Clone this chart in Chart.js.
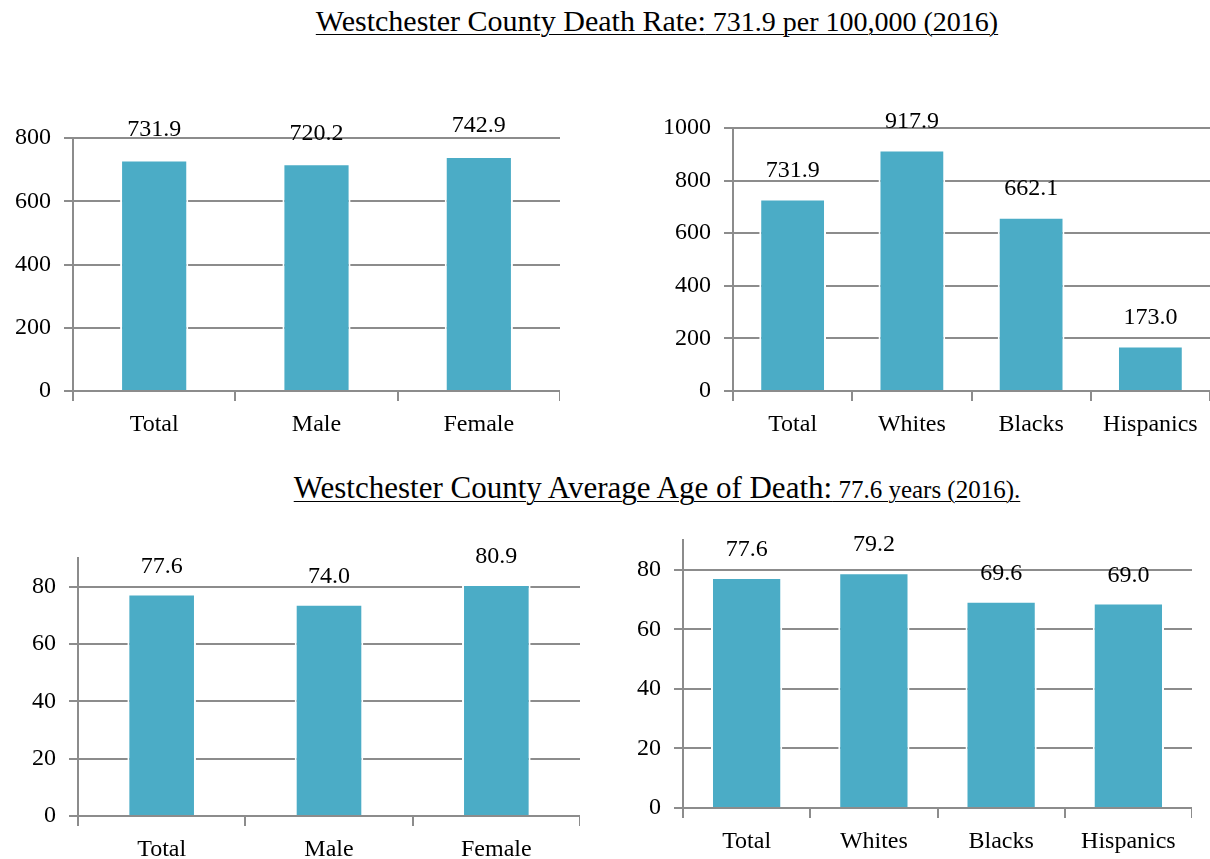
<!DOCTYPE html>
<html>
<head>
<meta charset="utf-8">
<script src="https://cdn.jsdelivr.net/npm/chart.js@4/dist/chart.umd.min.js"></script>
<style>
  html, body { margin: 0; padding: 0; background: #fff; overflow: hidden; }
  body { width: 1210px; height: 859px; position: relative; font-family: "Liberation Serif", serif; color: #000; }
  .title { position: absolute; left: 0; width: 1314px; text-align: center; white-space: nowrap; line-height: 1; }
  .title span.u { text-decoration: underline; text-decoration-thickness: 1px; text-underline-offset: 3px; }
  .box { position: absolute; }
</style>
</head>
<body>
<div class="title" style="top:6px;"><span class="u"><span style="font-size:30px">Westchester County Death Rate:</span><span style="font-size:28px"> 731.9 per 100,000 (2016)</span></span></div>
<div class="title" style="top:472px;"><span class="u"><span style="font-size:31px">Westchester County Average Age of Death:</span><span style="font-size:25px"> 77.6 years (2016).</span></span></div>

<div class="box" style="left:0px; top:100px; width:560px; height:341px;"><canvas id="rate-sex"></canvas></div>
<div class="box" style="left:640px; top:90px; width:570px; height:351px;"><canvas id="rate-race"></canvas></div>
<div class="box" style="left:0px; top:520px; width:580px; height:339px;"><canvas id="age-sex"></canvas></div>
<div class="box" style="left:620px; top:500px; width:572px; height:353px;"><canvas id="age-race"></canvas></div>

<script>
'use strict'

var sexLabels = ['Total', 'Male', 'Female']
var raceLabels = ['Total', 'Whites', 'Blacks', 'Hispanics']

var deathRateBySex = [731.9, 720.2, 742.9]
var deathRateByRace = [731.9, 917.9, 662.1, 173.0]
var deathAgeBySex = [77.6, 74.0, 80.9]
var deathAgeByRace = [77.6, 79.2, 69.6, 69.0]

var FONT = 'Liberation Serif'
var GREY = '#8c8c8c'
var BAR = '#4bacc6'

// draws the value above each bar
var valueLabels = {
  id: 'valueLabels',
  afterDatasetsDraw: function (chart, args, opts) {
    var ctx = chart.ctx
    ctx.save()
    ctx.font = '24px "' + FONT + '"'
    ctx.fillStyle = '#000'
    ctx.textAlign = 'center'
    ctx.textBaseline = 'middle'
    var values = chart.data.datasets[0].data
    chart.getDatasetMeta(0).data.forEach(function (bar, i) {
      ctx.fillText(values[i].toFixed(1), bar.x, bar.y - opts.offset)
    })
    ctx.restore()
  }
}

function makeChart(id, labels, values, cfg) {
  return new Chart(document.getElementById(id).getContext('2d'), {
    type: 'bar',
    data: {
      labels: labels,
      datasets: [{
        data: values,
        backgroundColor: BAR,
        borderColor: '#ffffff',
        borderWidth: 2,
        categoryPercentage: 1,
        barPercentage: cfg.barPct
      }]
    },
    options: {
      responsive: true,
      maintainAspectRatio: false,
      animation: false,
      layout: { padding: { top: cfg.padTop, left: 0, right: 0, bottom: 0 } },
      plugins: {
        legend: { display: false },
        tooltip: { enabled: false },
        valueLabels: { offset: cfg.labelOffset }
      },
      scales: {
        x: {
          offset: true,
          grid: { offset: true, drawOnChartArea: false, drawTicks: true, tickLength: 10, color: GREY, lineWidth: 2 },
          border: { display: true, color: GREY, width: 2 },
          ticks: { color: '#000', font: { family: FONT, size: 24 }, padding: 9, maxRotation: 0 },
          afterFit: function (scale) { scale.height = cfg.xHeight }
        },
        y: {
          min: 0,
          max: cfg.max,
          ticks: {
            stepSize: cfg.step,
            color: '#000',
            font: { family: FONT, size: 24 },
            padding: 13,
            callback: function (v) { return String(v) }
          },
          grid: { color: GREY, lineWidth: 2, tickLength: 9 },
          border: { display: true, color: GREY, width: 2 },
          afterBuildTicks: function (scale) {
            scale.ticks = scale.ticks.filter(function (t) { return t.value % cfg.step === 0 })
          },
          afterFit: function (scale) { scale.width = cfg.yWidth }
        }
      }
    },
    plugins: [valueLabels]
  })
}

makeChart('rate-sex', sexLabels, deathRateBySex, { max: 800, step: 200, padTop: 38, yWidth: 73, xHeight: 50, barPct: 0.42, labelOffset: 30 })
makeChart('rate-race', raceLabels, deathRateByRace, { max: 1000, step: 200, padTop: 38, yWidth: 93, xHeight: 50, barPct: 0.56, labelOffset: 28 })
makeChart('age-sex', sexLabels, deathAgeBySex, { max: 90, step: 20, padTop: 38, yWidth: 78, xHeight: 43, barPct: 0.41, labelOffset: 27 })
makeChart('age-race', raceLabels, deathAgeByRace, { max: 90, step: 20, padTop: 40, yWidth: 63, xHeight: 45, barPct: 0.56, labelOffset: 27 })
</script>
</body>
</html>
